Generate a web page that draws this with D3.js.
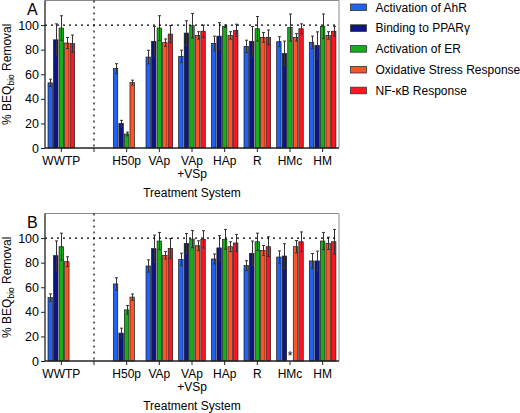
<!DOCTYPE html>
<html><head><meta charset="utf-8">
<script src="https://cdn.jsdelivr.net/npm/d3@7"></script>
<style>
body{margin:0;background:#fff;}
svg{font-family:"Liberation Sans",Arial,sans-serif;}
</style></head>
<body><svg id="c" width="520" height="413"></svg>
<script>
// ---- data ----
const slots = ["WWTP", "gap", "H50p", "VAp", "VAp+VSp", "HAp", "R", "HMc", "HM"];
const groups = ["WWTP", "H50p", "VAp", "VAp+VSp", "HAp", "R", "HMc", "HM"];
const series = ["Activation of AhR", "Binding to PPARγ", "Activation of ER", "Oxidative Stress Response", "NF-κB Response"];
const colors = ["#1f62f5", "#0b1683", "#17ae1a", "#ff5326", "#ff1522"];
const yTicks = [0, 20, 40, 60, 80, 100];

// Panel A
const aAhR   = [53, 64.6, 74, 74.6, 85, 82.7, 86.5, 86];
const aAhRe  = [3, 4, 5.5, 5, 6, 5, 4, 5];
const aPPAR  = [88, 20, 86.8, 93.5, 91, 86.8, 77, 83.5];
const aPPARe = [13, 2.5, 12, 10, 11, 12, 10, 11];
const aER    = [97.6, 11.4, 97.6, 99.5, 99, 97, 98, 99];
const aERe   = [10, 1.5, 10, 10, 1, 10, 11, 10];
const aOx    = [85.4, 53.2, 85.7, 91.6, 91.6, 90, 90, 91.6];
const aOxe   = [4.5, 2, 3, 3, 3, 4, 3, 3];
const aNF    = [84.9, null, 92.7, 95, 95.7, 90, 97, 95];
const aNFe   = [7, null, 7, 5, 5, 6, 4, 4];

// Panel B
const bAhR   = [51.6, 62.7, 77.3, 82.7, 83, 77.6, 84.6, 81.4];
const bAhRe  = [3, 5, 5, 5, 4, 4, 5, 6];
const bPPAR  = [85.7, 22.7, 91.4, 95.7, 92, 87.6, 85.4, 81.4];
const bPPARe = [12, 4, 11, 8, 10, 10, 10, 8];
const bER    = [93, 41.6, 97.6, 99.2, 99, 97, null, 97.6];
const bERe   = [11, 3.5, 7, 7, 8, 7, null, 7];
const bOx    = [80.8, 52, 86, 93.8, 93, 90, 93, 95.7];
const bOxe   = [4, 2.5, 3, 4, 4, 4, 5, 5];
const bNF    = [null, null, 91.6, 99, 96, 93, 97, 97];
const bNFe   = [null, null, 8, 7, 7, 8, 8, 10];
const bMarks = [{group: "HMc", series: 2, text: "*"}];

const panels = [
  {letter: "A", top: 0.5, base: 148, vals: [aAhR, aPPAR, aER, aOx, aNF], errs: [aAhRe, aPPARe, aERe, aOxe, aNFe], marks: []},
  {letter: "B", top: 213.5, base: 361, vals: [bAhR, bPPAR, bER, bOx, bNF], errs: [bAhRe, bPPARe, bERe, bOxe, bNFe], marks: bMarks}
];

const svg = d3.select("#c");
const left = 45, right = 339;
const x = d3.scaleBand().domain(slots).range([left, right]).paddingInner(0).paddingOuter(0);
const xs = d3.scaleBand().domain(d3.range(series.length)).range([3, 29.6]).paddingInner(0.2).paddingOuter(0);

panels.forEach(p => {
  const g = svg.append("g");
  const y = d3.scaleLinear().domain([0, 120]).range([p.base, p.top]);

  // frame top/right
  g.append("path").attr("d", `M${left},${p.top}H${right}V${p.base}`)
    .attr("fill", "none").attr("stroke", "#8a8a8a").attr("stroke-width", 1);

  // bars
  series.forEach((s, si) => {
    groups.forEach((gr, gi) => {
      const v = p.vals[si][gi];
      if (v == null) return;
      const bx = x(gr) + xs(si);
      g.append("rect").attr("x", bx).attr("y", y(v)).attr("width", xs.bandwidth()).attr("height", y(0) - y(v))
        .attr("fill", colors[si]).attr("stroke", "#1a1a1a").attr("stroke-width", 0.7);
    });
  });
  // error bars
  series.forEach((s, si) => {
    groups.forEach((gr, gi) => {
      const v = p.vals[si][gi], e = p.errs[si][gi];
      if (v == null || e == null) return;
      const cx = Math.round(x(gr) + xs(si) + xs.bandwidth() / 2) + 0.5;
      const y1 = y(v - e), y2 = y(v + e);
      g.append("line").attr("x1", cx).attr("x2", cx).attr("y1", y1).attr("y2", y2).attr("stroke", "#333").attr("stroke-width", 1);
      [y1, y2].forEach(yy => g.append("line").attr("x1", cx - 1.5).attr("x2", cx + 1.5).attr("y1", yy).attr("y2", yy).attr("stroke", "#333").attr("stroke-width", 1));
    });
  });
  // marks
  p.marks.forEach(m => {
    g.append("text").attr("x", x(m.group) + xs(m.series) + xs.bandwidth() / 2).attr("y", y(0) - 1)
      .attr("text-anchor", "middle").attr("font-size", 12).attr("fill", "#000").text(m.text);
  });

  // dotted reference lines
  g.append("line").attr("x1", left).attr("x2", right).attr("y1", y(100)).attr("y2", y(100))
    .attr("stroke", "#000").attr("stroke-width", 1.3).attr("stroke-dasharray", "2,4");
  const gx = x("gap") + x.bandwidth() / 2;
  g.append("line").attr("x1", gx).attr("x2", gx).attr("y1", p.top).attr("y2", p.base)
    .attr("stroke", "#000").attr("stroke-width", 1.2).attr("stroke-dasharray", "2,4");

  // y axis
  const ya = g.append("g").attr("transform", `translate(${left},0)`)
    .call(d3.axisLeft(y).tickValues(yTicks).tickSize(4).tickSizeOuter(0).tickPadding(2));
  ya.select(".domain").remove();
  ya.selectAll("text").attr("font-size", 12.5).attr("fill", "#000").style("font-family", "Liberation Sans, Arial, sans-serif");
  ya.selectAll("line").attr("stroke", "#222");
  g.append("line").attr("x1", left).attr("x2", left).attr("y1", p.top).attr("y2", p.base).attr("stroke", "#222").attr("stroke-width", 1.3);

  // x axis
  const xa = g.append("g").attr("transform", `translate(0,${p.base})`)
    .call(d3.axisBottom(x).tickSize(4).tickSizeOuter(0).tickPadding(4).tickFormat(d => d === "gap" ? "" : d));
  xa.select(".domain").remove();
  xa.selectAll("line").attr("stroke", "#222");
  xa.selectAll("text").attr("font-size", 12).attr("fill", "#000").style("font-family", "Liberation Sans, Arial, sans-serif")
    .each(function(d) {
      if (d === "VAp+VSp") {
        const t = d3.select(this); t.text("");
        t.append("tspan").attr("x", 0).attr("dy", "0.71em").text("VAp");
        t.append("tspan").attr("x", 0).attr("dy", "1.12em").text("+VSp");
        t.attr("dy", null);
      }
    });
  g.append("line").attr("x1", left).attr("x2", right).attr("y1", p.base).attr("y2", p.base).attr("stroke", "#222").attr("stroke-width", 1.3);

  // titles
  g.append("text").attr("x", (left + right) / 2).attr("y", p.base + 48.5).attr("text-anchor", "middle")
    .attr("font-size", 12).attr("fill", "#000").text("Treatment System");
  const yt = g.append("text").attr("transform", `translate(11,${(p.base + p.top) / 2}) rotate(-90)`)
    .attr("text-anchor", "middle").attr("font-size", 12).attr("fill", "#000");
  yt.append("tspan").text("% BEQ");
  yt.append("tspan").attr("font-size", 8.5).attr("dy", 3).text("bio");
  yt.append("tspan").attr("dy", -3).text(" Removal");

  g.append("text").attr("x", 27).attr("y", p.top + 14.5).attr("font-size", 16).attr("fill", "#000").text(p.letter);
});

// legend
const lg = svg.append("g");
series.forEach((s, i) => {
  const cy = 7.3 + i * 20.8;
  lg.append("rect").attr("x", 350.5).attr("y", cy - 3.3).attr("width", 16).attr("height", 6.6)
    .attr("fill", colors[i]).attr("stroke", "#333").attr("stroke-width", 0.8);
  lg.append("text").attr("x", 375.5).attr("y", cy + 4.3).attr("font-size", 12).attr("fill", "#000").text(s);
});
</script></body></html>
